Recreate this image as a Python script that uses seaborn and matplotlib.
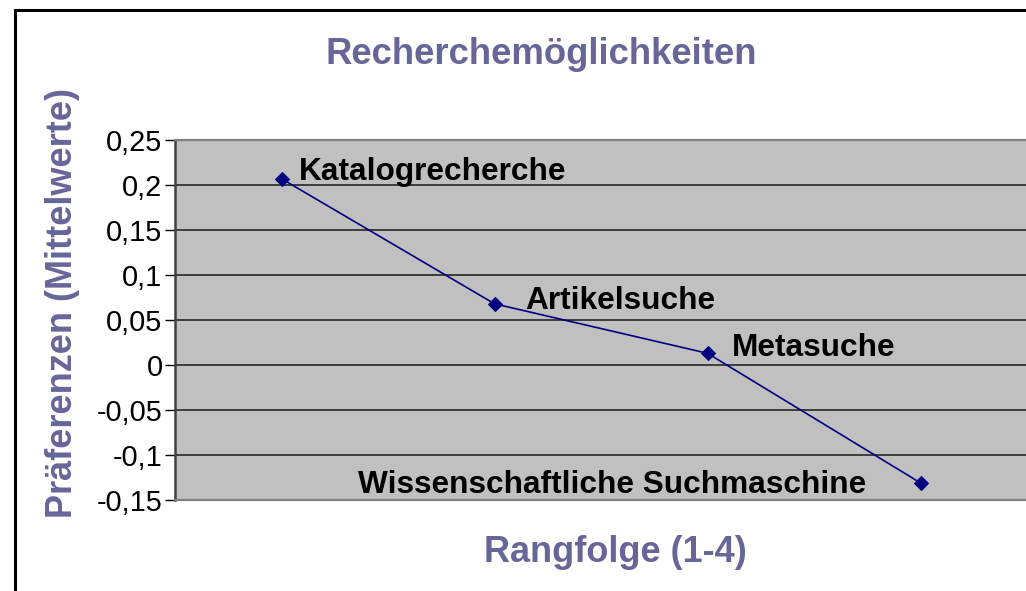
import matplotlib
matplotlib.use("Agg")
import matplotlib.pyplot as plt
import seaborn as sns
import pandas as pd
from matplotlib.patches import Rectangle

# ---- data ----
categories = ["Katalogrecherche", "Artikelsuche", "Metasuche", "Wissenschaftliche Suchmaschine"]
ranks = [1, 2, 3, 4]
values = [0.207, 0.068, 0.013, -0.131]
ytick_values = [-0.15, -0.1, -0.05, 0, 0.05, 0.1, 0.15, 0.2, 0.25]
ytick_labels = ["-0,15", "-0,1", "-0,05", "0", "0,05", "0,1", "0,15", "0,2", "0,25"]
title = "Recherchemöglichkeiten"
xlabel = "Rangfolge (1-4)"
ylabel = "Präferenzen (Mittelwerte)"

sns.set_theme(style="white")
plt.rcParams['font.family'] = ['Liberation Sans', 'DejaVu Sans']

W, H = 1026, 591
fig = plt.figure(figsize=(W / 100, H / 100), dpi=100)
fig.patch.set_facecolor("white")

# plot area in pixel coordinates
left, right, top, bottom = 175, 1027, 140, 500
ax = fig.add_axes([left / W, 1 - bottom / H, (right - left) / W, (bottom - top) / H])
ax.set_facecolor("#C0C0C0")

df = pd.DataFrame({"rank": ranks, "value": values, "label": categories})
sns.lineplot(data=df, x="rank", y="value", ax=ax, color="#000080", linewidth=1.2,
             marker="D", markersize=7.5, markeredgecolor="#000080",
             markerfacecolor="#000080", zorder=5)

ax.set_xlim(0.5, 4.5)
ax.set_ylim(-0.15, 0.25)
ax.set_yticks(ytick_values)
ax.set_yticklabels(ytick_labels, fontsize=20.8, color="black")
ax.set_xticks([])
ax.set_xlabel("")
ax.set_ylabel("")
ax.tick_params(axis="y", direction="out", length=7, width=1, color="black", pad=2, left=True)

for yv in ytick_values[1:-1]:
    ax.axhline(yv, color="#1a1a1a", linewidth=1.1, zorder=1)

for side in ["top", "bottom"]:
    ax.spines[side].set_color("#808080")
    ax.spines[side].set_linewidth(1.6)
ax.spines["left"].set_color("#404040")
ax.spines["left"].set_linewidth(1.8)
ax.spines["right"].set_visible(False)

# data labels (offsets in pixels)
offsets = [(17, 7), (31, 3), (24, 5), (-54, -2)]
aligns = ["left", "left", "left", "right"]
for r, v, lab, off, ha in zip(ranks, values, categories, offsets, aligns):
    ax.annotate(lab, xy=(r, v), xytext=off, textcoords="offset pixels",
                ha=ha, va="center", fontsize=22.8, fontweight="bold", color="black",
                zorder=6)

tcolor = "#666699"
fig.text(541 / W, 1 - 55 / H, title, ha="center", va="center", fontsize=26.3,
         fontweight="bold", color=tcolor)
fig.text(615 / W, 1 - 553 / H, xlabel, ha="center", va="center", fontsize=26,
         fontweight="bold", color=tcolor)
fig.text(63 / W, 1 - 303 / H, ylabel, ha="center", va="center", fontsize=26,
         fontweight="bold", color=tcolor, rotation=90)

# outer chart border (cropped on right and bottom)
fig.patches.append(Rectangle((14.5 / W, -0.1), 1.2, 1 - 9.5 / H + 0.1,
                             transform=fig.transFigure, fill=False,
                             edgecolor="black", linewidth=2.2, zorder=10))

fig.savefig("out.png", dpi=100)
